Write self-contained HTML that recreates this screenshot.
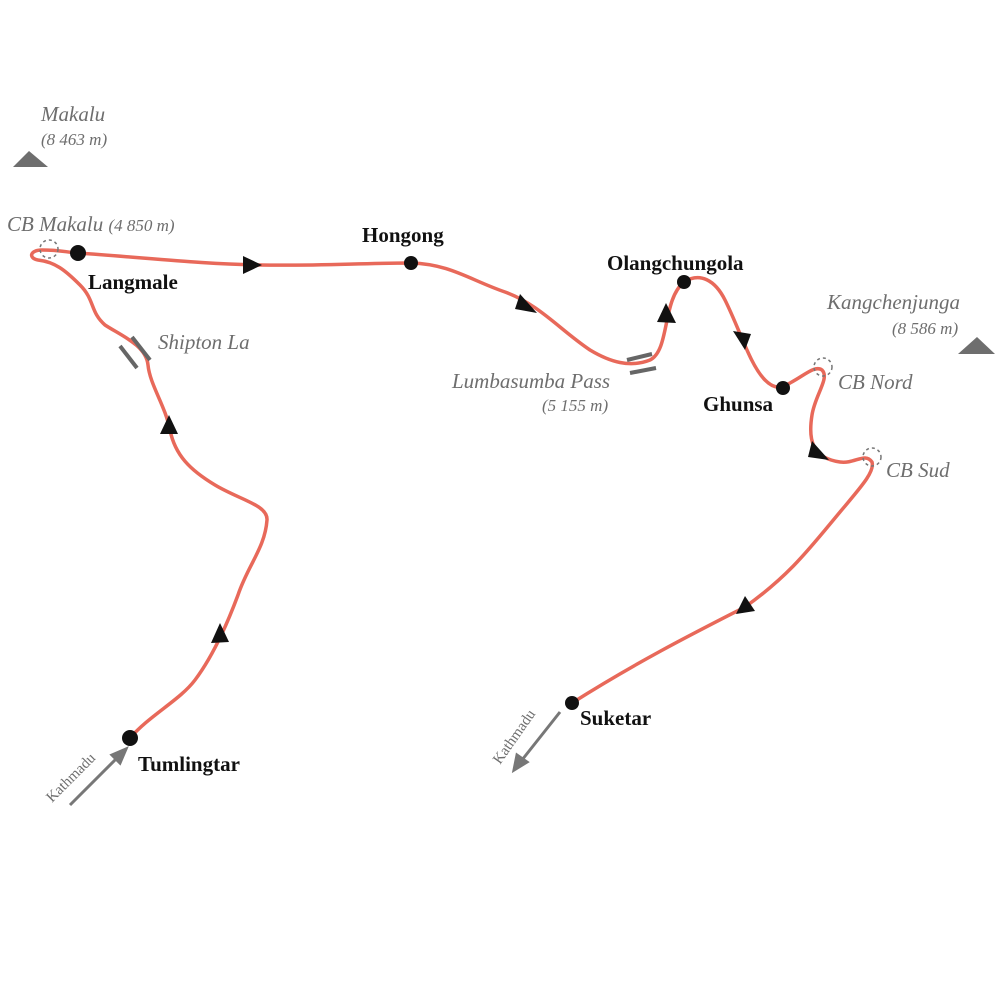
<!DOCTYPE html>
<html><head><meta charset="utf-8"><style>
html,body{margin:0;padding:0;background:#fff;}
svg{display:block;}
.it{font-family:"Liberation Serif",serif;font-style:italic;fill:#6e6e6e;}
.b{font-family:"Liberation Serif",serif;fill:#111;font-size:21px;font-weight:bold;}
</style></head><body>
<svg width="1000" height="1000" viewBox="0 0 1000 1000" xmlns="http://www.w3.org/2000/svg">
<rect width="1000" height="1000" fill="#fff"/>
<path d="M130,738 C150,715 180,700 195,680 C210,660 225,630 238,595 C248,565 265,548 267,520 C268,505 240,500 215,485 C190,470 175,455 170,430 C165,405 150,385 148,365 C146,345 120,335 105,325 C90,312 95,300 80,285 C65,270 55,262 38,260 C28,258 30,250 42,250 C60,250 65,252 78,253 C150,258 200,264 260,265 C320,266 360,263 411,263 C450,264 470,280 505,292 C540,305 560,330 590,350 C610,362 630,368 650,360 C670,350 662,300 684,282 C700,272 715,280 725,300 C740,330 750,365 765,380 C775,390 782,388 790,383 C805,375 815,365 822,370 C830,378 815,395 812,415 C808,440 812,458 840,462 C855,464 865,452 872,462 C875,472 860,488 840,512 C810,548 790,575 745,607 C700,630 640,660 572,703" fill="none" stroke="#e8695a" stroke-width="3.5" stroke-linecap="round"/>
<g fill="#111">
<polygon points="262,265 243,256 243,274"/>
<polygon points="537,313 520,294 515,309"/>
<polygon points="666,303 657,322 676,323"/>
<polygon points="745,350 733,331 751,334"/>
<polygon points="829,460 812,441 808,457"/>
<polygon points="736,614 745,596 755,611"/>
<polygon points="169,415 160,434 178,434"/>
<polygon points="220,623 211,643 229,642"/>
<circle cx="130" cy="738" r="8"/><circle cx="78" cy="253" r="8"/><circle cx="411" cy="263" r="7"/><circle cx="684" cy="282" r="7"/><circle cx="783" cy="388" r="7"/><circle cx="572" cy="703" r="7"/>
</g>
<g fill="none" stroke="#777" stroke-width="1.5" stroke-dasharray="3,3">
<circle cx="49" cy="249" r="9"/><circle cx="823" cy="367" r="9"/><circle cx="872" cy="457" r="9"/>
</g>
<g stroke="#666" stroke-width="4">
<line x1="120" y1="346" x2="137" y2="368"/><line x1="132" y1="337" x2="150" y2="360"/>
<line x1="627" y1="360" x2="652" y2="354"/><line x1="630" y1="373" x2="656" y2="368"/>
</g>
<polygon points="13,167 29,151 48,167" fill="#6e6e6e"/>
<polygon points="958,354 977,337 995,354" fill="#6e6e6e"/>
<g stroke="#777" stroke-width="3" fill="#777">
<line x1="70" y1="805" x2="118" y2="757"/><polygon points="126,749 112,755 120,763"/>
<line x1="560" y1="712" x2="522" y2="760"/><polygon points="514,770 517,755 527,762"/>
</g>
<text class="it" font-size="21" x="41" y="121">Makalu</text>
<text class="it" font-size="17" x="41" y="145">(8 463 m)</text>
<text class="it" font-size="21" x="7" y="231">CB Makalu <tspan font-size="17">(4 850 m)</tspan></text>
<text class="it" font-size="21" x="158" y="349">Shipton La</text>
<text class="it" font-size="21" x="452" y="388">Lumbasumba Pass</text>
<text class="it" font-size="17" x="542" y="411">(5 155 m)</text>
<text class="it" font-size="21" x="827" y="309">Kangchenjunga</text>
<text class="it" font-size="17" x="892" y="334">(8 586 m)</text>
<text class="it" font-size="21" x="838" y="389">CB Nord</text>
<text class="it" font-size="21" x="886" y="477">CB Sud</text>
<text class="b" x="88" y="289">Langmale</text>
<text class="b" x="362" y="242">Hongong</text>
<text class="b" x="607" y="270">Olangchungola</text>
<text class="b" x="703" y="411">Ghunsa</text>
<text class="b" x="138" y="771">Tumlingtar</text>
<text class="b" x="580" y="725">Suketar</text>
<text class="it" font-size="15" fill="#777" style="font-style:normal" transform="translate(52,803) rotate(-45)">Kathmadu</text>
<text class="it" font-size="15" fill="#777" style="font-style:normal" transform="translate(500,765) rotate(-55)">Kathmadu</text>
</svg>
</body></html>
